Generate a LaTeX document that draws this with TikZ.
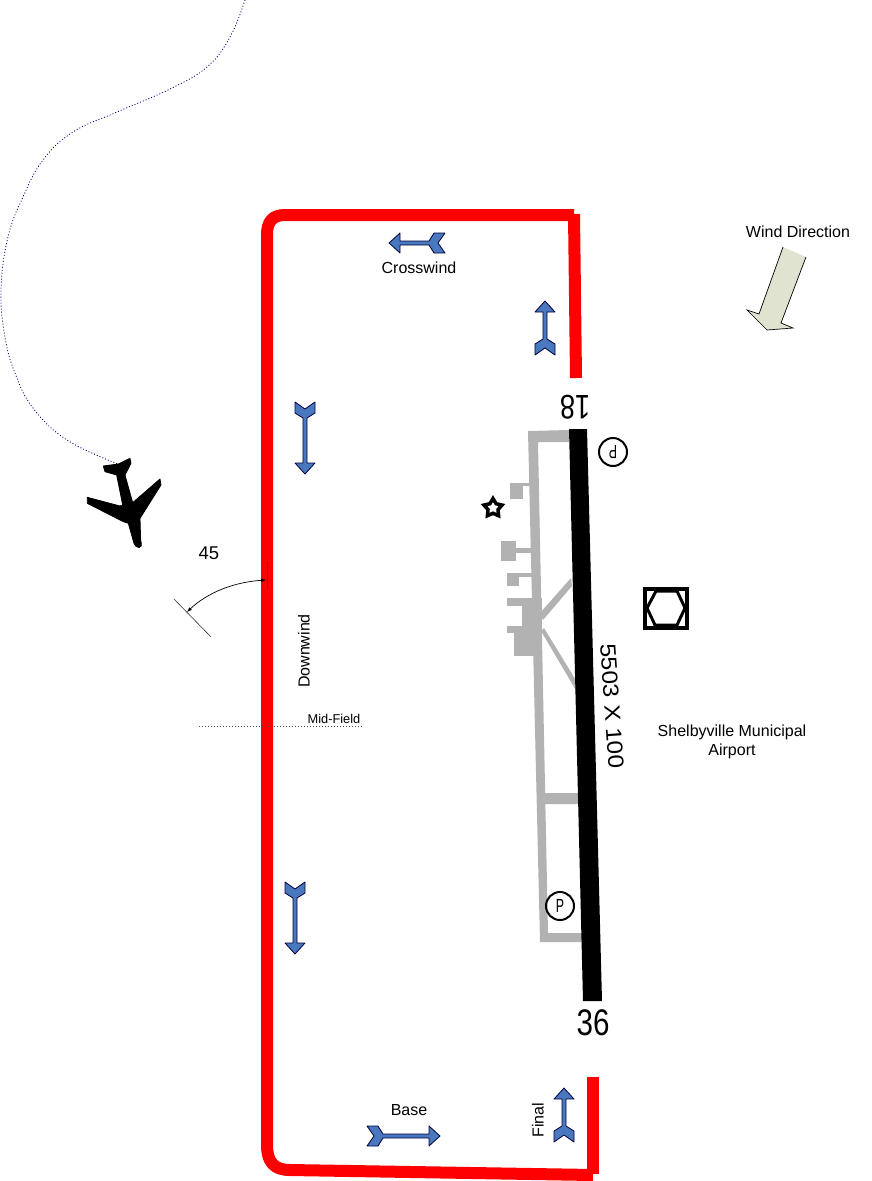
\documentclass[tikz,border=0pt]{standalone}
\usepackage{fontspec}
\setmainfont{Liberation Sans}
\usepackage{tikz}
\usetikzlibrary{shapes.geometric}

\definecolor{patternred}{RGB}{255,0,0}
\definecolor{legblue}{RGB}{74,120,190}
\definecolor{taxigray}{RGB}{178,178,178}
\definecolor{windfill}{RGB}{223,227,207}

\tikzset{
    patternleg/.style={draw=patternred,line width=12pt},
    taxiway/.style={fill=taxigray,draw=none},
    textlabel/.style={font=\fontsize{16}{19}\selectfont,align=center,inner sep=0pt},
    legstyle/.style={fill=legblue,draw=black!75!blue,line width=0.8pt,line join=round},
    signmark/.style={circle,draw,line width=2pt,minimum size=28pt,inner sep=0pt,font=\fontsize{19}{19}\selectfont}
}

% #1 tip, #2 direction of flight, #3 overall length
\newcommand{\legarrow}[3]{
    \draw[legstyle,shift={#1},rotate=#2]
        (0,0) -- (-11,-10) -- (-11,-2) -- (-#3+16,-2) -- (-#3+11,-10) -- (-#3,-10)
        -- (-#3+7,0) -- (-#3,10) -- (-#3+11,10) -- (-#3+16,2) -- (-11,2) -- (-11,10) -- cycle;
}

\begin{document}
\begin{tikzpicture}[x=1pt,y=-1pt]
\useasboundingbox (0,0) rectangle (872,1181);

% approach track
\draw[blue!50!black,dash pattern=on 1pt off 2pt,line width=0.8pt] plot[smooth,tension=0.7] coordinates {
    (245,0) (230,37) (207,67) (170,89) (117,112) (73,132) (43,160) (23,197) (8,237)
    (1,290) (5,337) (15,373) (33,408) (67,440) (118,464)};

% pattern
\draw[patternleg,line join=round] (574,215) -- (285,215)
    .. controls (272,215) and (267,222) .. (267,235)
    -- (267,1145)
    .. controls (267,1162) and (274,1170) .. (290,1170)
    -- (593,1175);
\draw[patternleg] (574,214) -- (576,378);
\draw[patternleg] (593,1077) -- (593,1174);

% taxiways
\fill[taxiway] (528,431) -- (569,430) -- (569,442) -- (538,442) -- (548,933) -- (582,933)
    -- (582,942) -- (540,942) -- cycle;
\fill[taxiway] (544,793) -- (579,793) -- (579,804) -- (545,804) -- cycle;
\fill[taxiway] (540,613) -- (571,578) -- (572,586) -- (543,620) -- cycle;
\fill[taxiway] (541,631) -- (544,628) -- (577,682) -- (577,692) -- cycle;
\fill[taxiway] (510,483) rectangle (523,499);
\fill[taxiway] (523,483) rectangle (530,486);
\fill[taxiway] (501,541) rectangle (516,561);
\fill[taxiway] (516,548) rectangle (531,553);
\fill[taxiway] (507,573) rectangle (532,577);
\fill[taxiway] (507,573) rectangle (519,586);
\fill[taxiway] (507,598) rectangle (542,606);
\fill[taxiway] (522,598) rectangle (542,628);
\fill[taxiway] (507,626) rectangle (542,633);
\fill[taxiway] (514,626) rectangle (542,656);

% runway
\fill[black] (569,429) -- (587,429) -- (602,1001) -- (583,1001) -- cycle;
\node[font=\fontsize{34}{34}\selectfont,rotate=180,xscale=0.8,inner sep=0pt] (rwy18) at (575,407) {18};
\node[font=\fontsize{37}{37}\selectfont,xscale=0.8,inner sep=0pt] (rwy36) at (593,1023) {36};
\node[font=\fontsize{22}{22}\selectfont,rotate=-86,xscale=1.11,inner sep=0pt] (rwylen) at (612,706) {5503 X 100};

\node[signmark,rotate=180] (parknorth) at (613,452) {\scalebox{0.65}[1]{P}};
\node[signmark] (parksouth) at (560,906) {\scalebox{0.65}[1]{P}};

\node[star,star points=5,star point ratio=1.8,draw,line width=3.5pt,minimum size=19pt,inner sep=0pt] (beacon) at (493,508) {};

\draw[line width=3.5pt] (645,589) rectangle (687,628);
\draw[line width=3pt,fill=white] (647,608) -- (656,591) -- (677,591) -- (685,608) -- (677,625) -- (655,625) -- cycle;

% wind
\fill[windfill] (783,247) -- (806,257) -- (781,323) -- (793,328) -- (767,330) -- (747,310) -- (759,314) -- cycle;
\draw[line width=0.7pt] (806,257) -- (781,323) -- (793,328) -- (767,330) -- (747,310) -- (759,314) -- (783,247);

% leg arrows
\legarrow{(389,243)}{180}{56}
\legarrow{(545,301)}{90}{54}
\legarrow{(305,474)}{-90}{72}
\legarrow{(295,954)}{-90}{72}
\legarrow{(440,1136)}{0}{73}
\legarrow{(564,1088)}{90}{54}

% airplane
\begin{scope}[shift={(60,440)},scale=0.3333]
\filldraw[black,line width=0.8pt,line join=round] (130,78) -- (175,72) -- (210,55) -- (213,70) -- (195,105) -- (218,188)
    -- (300,117) -- (303,135) -- (240,235) -- (242,300) .. controls (246,315) and (245,323) .. (237,323)
    .. controls (230,323) and (224,315) .. (222,310)
    -- (205,250) -- (190,245) -- (82,190) -- (82,172) -- (180,198) -- (188,195) -- (170,105) -- (135,95) -- cycle;
\end{scope}

% 45 degree entry
\coordinate (entrytop) at (267,561);
\coordinate (entrybot) at (267,590);
\coordinate (tickstart) at (174,599);
\coordinate (tickend) at (211,637);
\coordinate (arcright) at (266,580);
\coordinate (arcleft) at (187,612);
\draw[black!80,line width=1pt] (entrytop) -- (entrybot);
\draw[black!80,line width=0.6pt] (tickstart) -- (tickend);
\draw[latex-latex,line width=0.7pt] (arcright) .. controls (235,582) and (208,592) .. (arcleft);
\node[textlabel,font=\fontsize{18.5}{19}\selectfont] (entryangle) at (209,553) {45};

% mid field
\coordinate (midleft) at (199,726);
\coordinate (midright) at (362,726);
\draw[black!70,dash pattern=on 1pt off 2pt,line width=0.8pt] (midleft) -- (midright);
\node[textlabel,font=\fontsize{12.8}{15}\selectfont] (midfield) at (334,719) {Mid-Field};

% labels
\node[textlabel] (windlabel) at (798,232) {Wind Direction};
\node[textlabel] (crosslabel) at (419,268) {Crosswind};
\node[textlabel,rotate=90] (downlabel) at (304,651) {Downwind};
\node[textlabel] (baselabel) at (409,1110) {Base};
\node[textlabel,rotate=90] (finallabel) at (538,1120) {Final};
\node[textlabel] (airportlabel) at (732,742) {Shelbyville Municipal\\Airport};
\end{tikzpicture}
\end{document}
